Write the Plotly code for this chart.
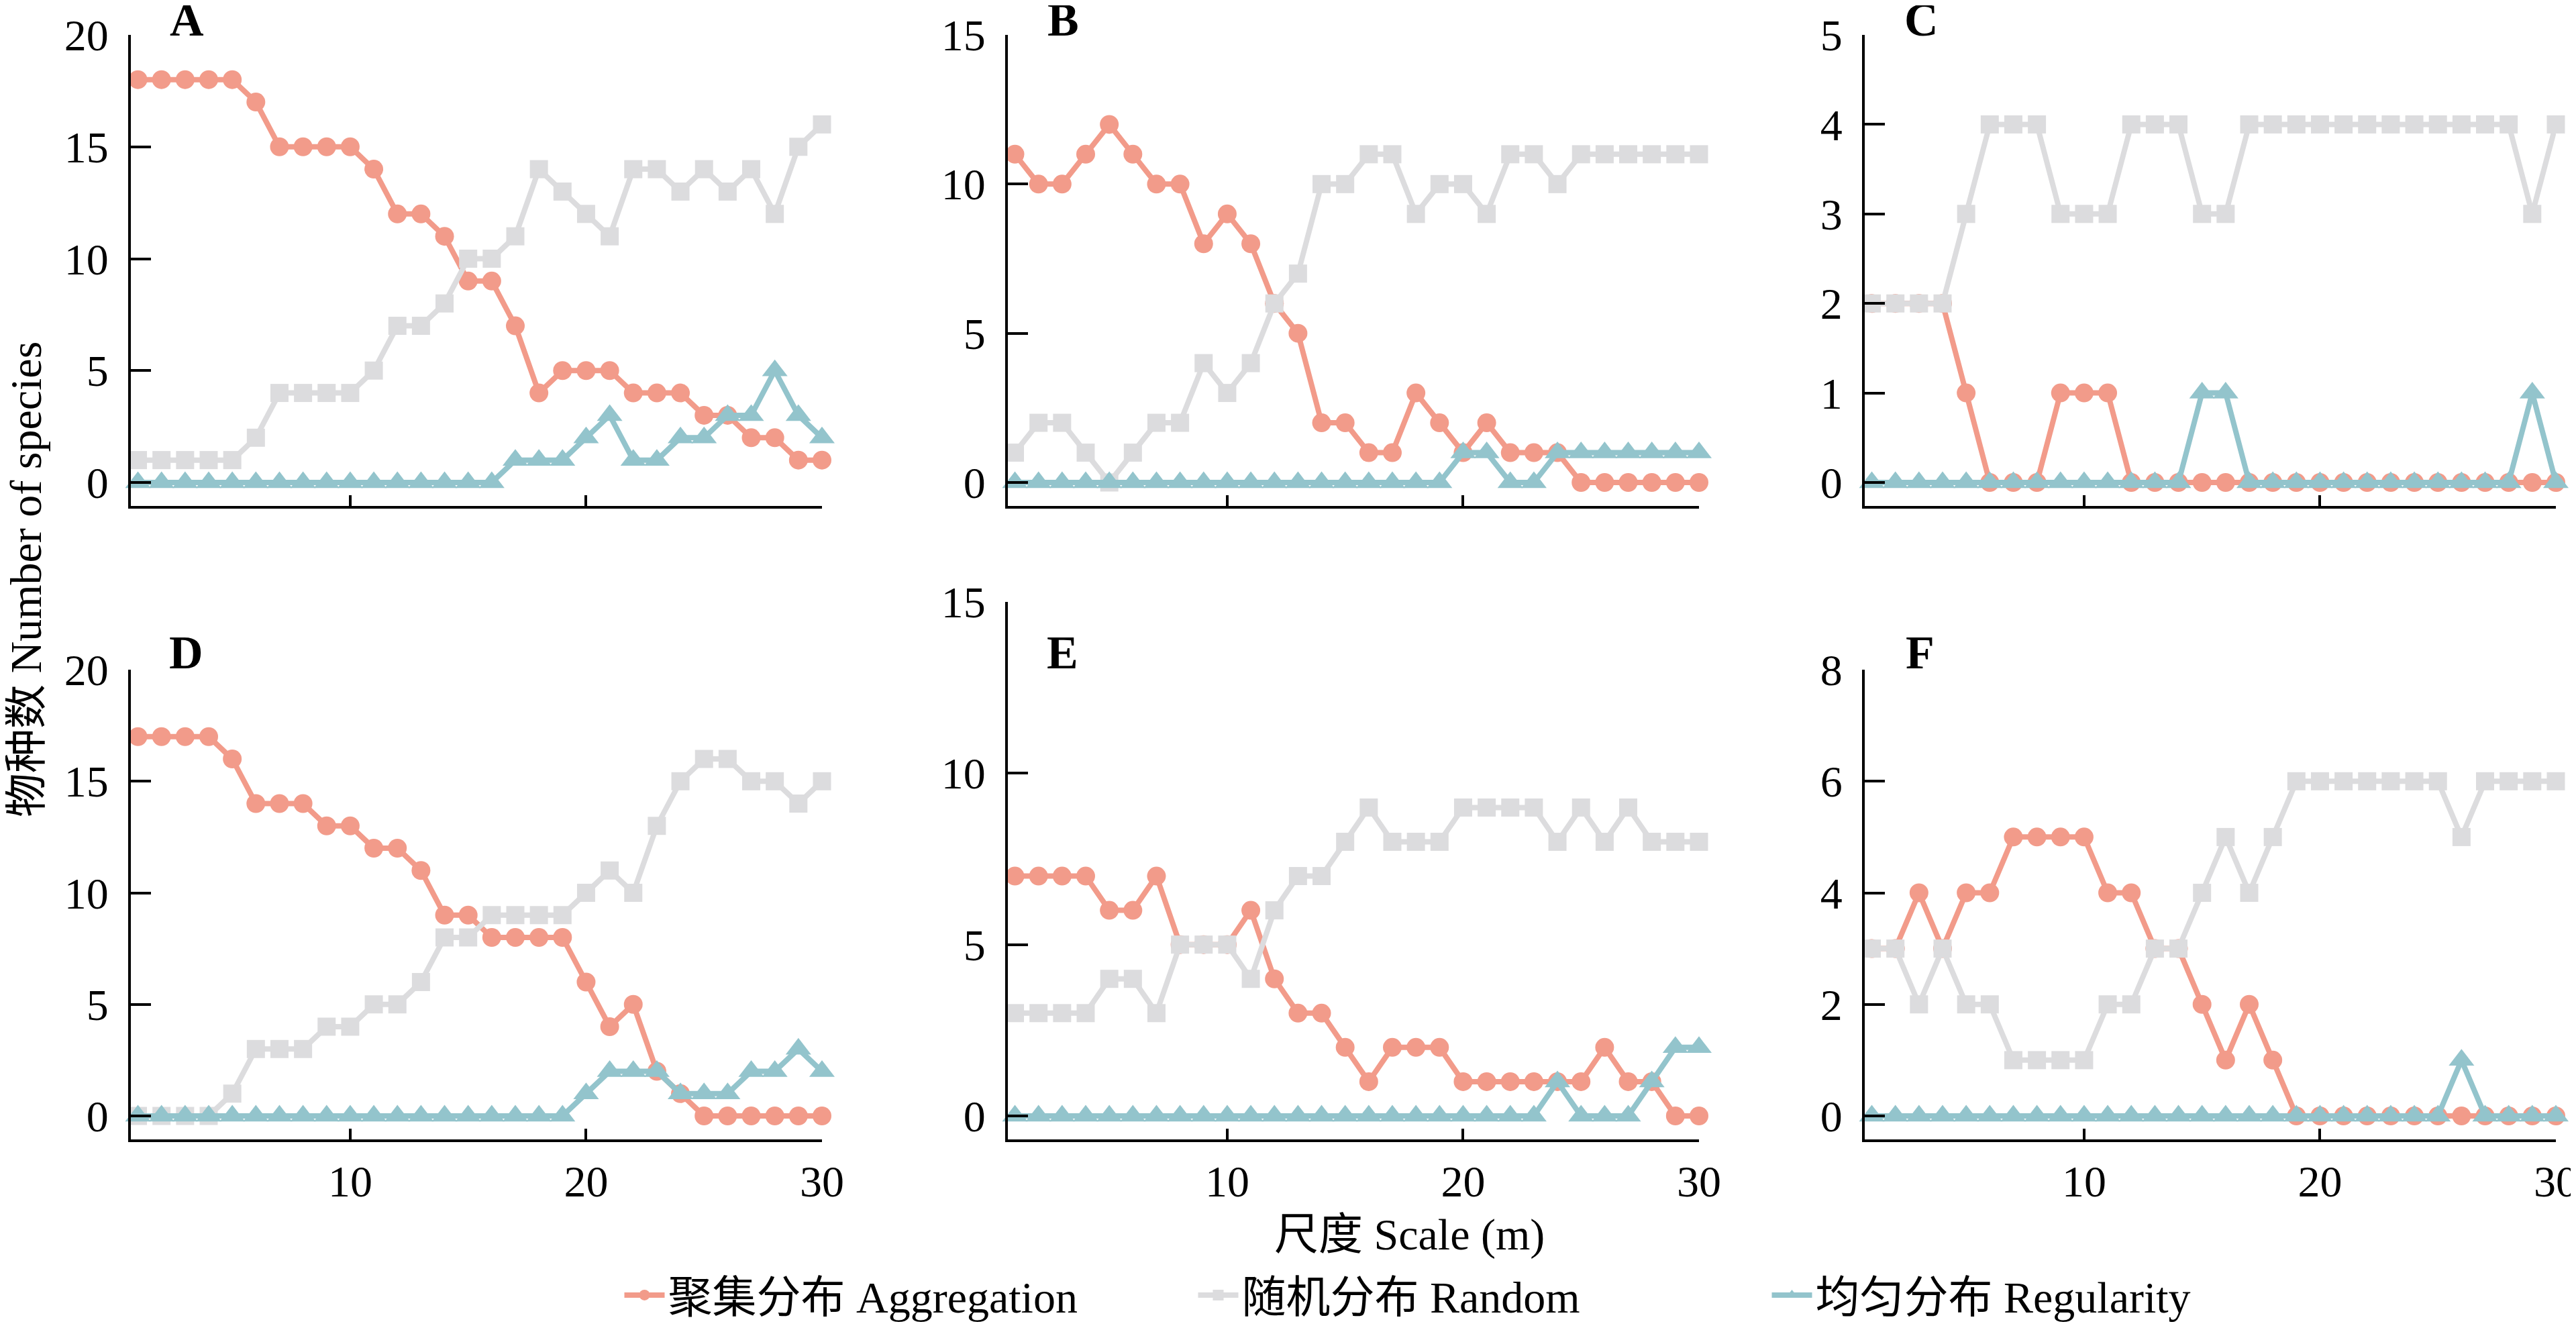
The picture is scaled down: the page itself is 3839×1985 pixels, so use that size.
import plotly.graph_objects as go

# scale (m)
scale = [1, 2, 3, 4, 5, 6, 7, 8, 9, 10, 11, 12, 13, 14, 15,
         16, 17, 18, 19, 20, 21, 22, 23, 24, 25, 26, 27, 28, 29, 30]

# number of species per pattern, panels A-F
agg_A = [18, 18, 18, 18, 18, 17, 15, 15, 15, 15, 14, 12, 12, 11, 9, 9, 7, 4, 5, 5, 5, 4, 4, 4, 3, 3, 2, 2, 1, 1]
ran_A = [1, 1, 1, 1, 1, 2, 4, 4, 4, 4, 5, 7, 7, 8, 10, 10, 11, 14, 13, 12, 11, 14, 14, 13, 14, 13, 14, 12, 15, 16]
reg_A = [0, 0, 0, 0, 0, 0, 0, 0, 0, 0, 0, 0, 0, 0, 0, 0, 1, 1, 1, 2, 3, 1, 1, 2, 2, 3, 3, 5, 3, 2]

agg_B = [11, 10, 10, 11, 12, 11, 10, 10, 8, 9, 8, 6, 5, 2, 2, 1, 1, 3, 2, 1, 2, 1, 1, 1, 0, 0, 0, 0, 0, 0]
ran_B = [1, 2, 2, 1, 0, 1, 2, 2, 4, 3, 4, 6, 7, 10, 10, 11, 11, 9, 10, 10, 9, 11, 11, 10, 11, 11, 11, 11, 11, 11]
reg_B = [0, 0, 0, 0, 0, 0, 0, 0, 0, 0, 0, 0, 0, 0, 0, 0, 0, 0, 0, 1, 1, 0, 0, 1, 1, 1, 1, 1, 1, 1]

agg_C = [2, 2, 2, 2, 1, 0, 0, 0, 1, 1, 1, 0, 0, 0, 0, 0, 0, 0, 0, 0, 0, 0, 0, 0, 0, 0, 0, 0, 0, 0]
ran_C = [2, 2, 2, 2, 3, 4, 4, 4, 3, 3, 3, 4, 4, 4, 3, 3, 4, 4, 4, 4, 4, 4, 4, 4, 4, 4, 4, 4, 3, 4]
reg_C = [0, 0, 0, 0, 0, 0, 0, 0, 0, 0, 0, 0, 0, 0, 1, 1, 0, 0, 0, 0, 0, 0, 0, 0, 0, 0, 0, 0, 1, 0]

agg_D = [17, 17, 17, 17, 16, 14, 14, 14, 13, 13, 12, 12, 11, 9, 9, 8, 8, 8, 8, 6, 4, 5, 2, 1, 0, 0, 0, 0, 0, 0]
ran_D = [0, 0, 0, 0, 1, 3, 3, 3, 4, 4, 5, 5, 6, 8, 8, 9, 9, 9, 9, 10, 11, 10, 13, 15, 16, 16, 15, 15, 14, 15]
reg_D = [0, 0, 0, 0, 0, 0, 0, 0, 0, 0, 0, 0, 0, 0, 0, 0, 0, 0, 0, 1, 2, 2, 2, 1, 1, 1, 2, 2, 3, 2]

agg_E = [7, 7, 7, 7, 6, 6, 7, 5, 5, 5, 6, 4, 3, 3, 2, 1, 2, 2, 2, 1, 1, 1, 1, 1, 1, 2, 1, 1, 0, 0]
ran_E = [3, 3, 3, 3, 4, 4, 3, 5, 5, 5, 4, 6, 7, 7, 8, 9, 8, 8, 8, 9, 9, 9, 9, 8, 9, 8, 9, 8, 8, 8]
reg_E = [0, 0, 0, 0, 0, 0, 0, 0, 0, 0, 0, 0, 0, 0, 0, 0, 0, 0, 0, 0, 0, 0, 0, 1, 0, 0, 0, 1, 2, 2]

agg_F = [3, 3, 4, 3, 4, 4, 5, 5, 5, 5, 4, 4, 3, 3, 2, 1, 2, 1, 0, 0, 0, 0, 0, 0, 0, 0, 0, 0, 0, 0]
ran_F = [3, 3, 2, 3, 2, 2, 1, 1, 1, 1, 2, 2, 3, 3, 4, 5, 4, 5, 6, 6, 6, 6, 6, 6, 6, 5, 6, 6, 6, 6]
reg_F = [0, 0, 0, 0, 0, 0, 0, 0, 0, 0, 0, 0, 0, 0, 0, 0, 0, 0, 0, 0, 0, 0, 0, 0, 0, 1, 0, 0, 0, 0]

panel_labels = ["A", "B", "C", "D", "E", "F"]
y_max = [20, 15, 5, 20, 15, 8]
y_step = [5, 5, 1, 5, 5, 2]
x_ticks = [10, 20, 30]

series_names = ["聚集分布 Aggregation", "随机分布 Random", "均匀分布 Regularity"]
panels = [
    (agg_A, ran_A, reg_A),
    (agg_B, ran_B, reg_B),
    (agg_C, ran_C, reg_C),
    (agg_D, ran_D, reg_D),
    (agg_E, ran_E, reg_E),
    (agg_F, ran_F, reg_F),
]

# styling
# the page body has an 8px margin, so the figure is a bit smaller than the window
BODY = 8
W, H = 3839 - 2 * BODY, 1985 - 2 * BODY
FONT = "Liberation Serif, Times New Roman, Noto Sans CJK SC"
colors = ["#F29B8A", "#DCDCDE", "#93C4CC"]
symbols = ["circle", "square", "triangle-up"]
sizes = [28, 27, 33]


def px_x(p):
    return (p - BODY) / W


def px_y(p):
    return 1 - (p - BODY) / H


# plot boxes in window pixels: (left, right), top tick, axis line
cols = [(195, 1225), (1502, 2532), (2779, 3809)]
boxes = [
    (cols[0], 52, 754), (cols[1], 52, 754), (cols[2], 52, 754),
    (cols[0], 998, 1698), (cols[1], 897, 1698), (cols[2], 998, 1698),
]
PAD_PX = 35  # gap between y=0 and the x axis line

fig = go.Figure()

for i, (vals, ymax, step, box) in enumerate(zip(panels, y_max, y_step, boxes)):
    n = "" if i == 0 else str(i + 1)
    (x0, x1), ytop, ybot = box
    for k in range(3):
        fig.add_trace(
            go.Scatter(
                x=scale,
                y=vals[k],
                mode="lines+markers",
                name=series_names[k],
                legendgroup=series_names[k],
                showlegend=(i == 0),
                line=dict(color=colors[k], width=8),
                marker=dict(symbol=symbols[k], size=sizes[k], color=colors[k]),
                cliponaxis=False,
                xaxis="x" + n,
                yaxis="y" + n,
            )
        )

    ppu = (ybot - PAD_PX - ytop) / ymax
    bottom_row = i >= 3
    fig.update_layout(**{
        "xaxis" + n: dict(
            domain=[px_x(x0), px_x(x1)],
            anchor="y" + n,
            range=[0.7, 30.0005],
            tickvals=x_ticks,
            showticklabels=bottom_row,
            ticklabeloverflow="allow",
            ticks="inside",
            ticklen=16,
            tickwidth=4,
            tickcolor="black",
            showline=True,
            linewidth=4,
            linecolor="black",
            showgrid=False,
            zeroline=False,
            automargin=False,
            ticklabelstandoff=2,
            tickfont=dict(family=FONT, size=66, color="black"),
        ),
        "yaxis" + n: dict(
            domain=[px_y(ybot), px_y(ytop)],
            anchor="x" + n,
            range=[-PAD_PX / ppu, ymax],
            dtick=step,
            tick0=0,
            ticklabeloverflow="allow",
            ticks="inside",
            ticklen=30,
            tickwidth=4,
            tickcolor="black",
            showline=True,
            linewidth=4,
            linecolor="black",
            showgrid=False,
            zeroline=False,
            automargin=False,
            ticklabelstandoff=16,
            tickfont=dict(family=FONT, size=66, color="black"),
        ),
    })

# panel letters
letter_pos = [(278, 30), (1584, 30), (2863, 30), (277, 972), (1583, 972), (2861, 972)]
for lab, (px, py) in zip(panel_labels, letter_pos):
    fig.add_annotation(
        x=px_x(px), y=px_y(py), xref="paper", yref="paper",
        text="<b>%s</b>" % lab, showarrow=False,
        xanchor="center", yanchor="middle",
        font=dict(family=FONT, size=70, color="black"),
    )

# axis titles
fig.add_annotation(
    x=px_x(2100), y=px_y(1840), xref="paper", yref="paper",
    text="尺度 Scale (m)", showarrow=False,
    xanchor="center", yanchor="middle",
    font=dict(family=FONT, size=66, color="black"),
)
fig.add_annotation(
    x=px_x(38), y=px_y(864), xref="paper", yref="paper",
    text="物种数 Number of species", showarrow=False, textangle=-90,
    xanchor="center", yanchor="middle",
    font=dict(family=FONT, size=66, color="black"),
)

fig.update_layout(
    width=W,
    height=H,
    autosize=False,
    template="none",
    margin=dict(l=0, r=0, t=0, b=0, autoexpand=False),
    paper_bgcolor="white",
    plot_bgcolor="white",
    font=dict(family=FONT, color="black"),
    legend=dict(
        orientation="h",
        x=px_x(2208),
        y=px_y(1930),
        xanchor="center",
        yanchor="middle",
        font=dict(family=FONT, size=66, color="black"),
        itemwidth=60,
        entrywidth=780,
        bgcolor="rgba(0,0,0,0)",
    ),
)

fig.write_html("out.html")
